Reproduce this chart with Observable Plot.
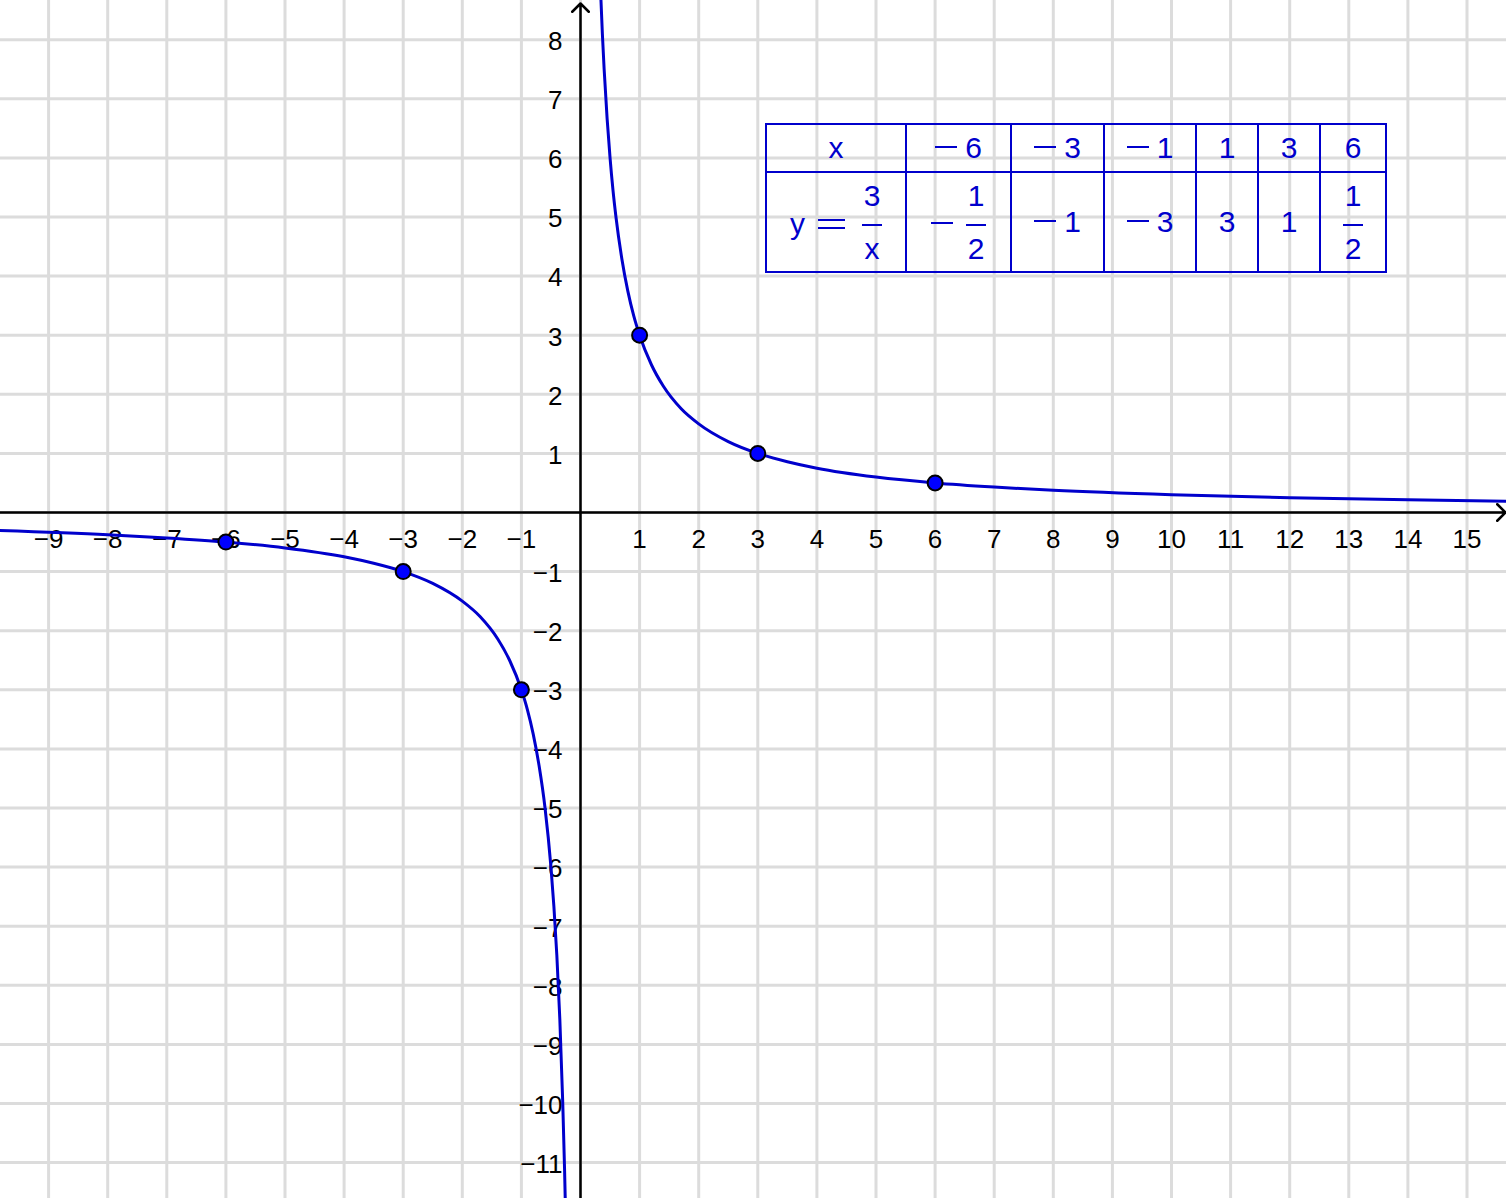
<!DOCTYPE html>
<html>
<head>
<meta charset="utf-8">
<script src="https://cdn.jsdelivr.net/npm/d3@7"></script>
<script src="https://cdn.jsdelivr.net/npm/@observablehq/plot@0.6"></script>
<style>
  body { margin: 0; background: #fff; }
  #wrap { position: relative; width: 1506px; height: 1198px; overflow: hidden; }
  #wrap svg { display: block; }
  #tbl { position: absolute; left: 765px; top: 123px; border-collapse: collapse; table-layout: fixed;
         width: 622px; color: #0000cc; font-family: "Liberation Sans", Arial, sans-serif; font-size: 30px; }
  #tbl td { border: 2px solid #0000cc; text-align: center; padding: 0; white-space: nowrap; }
  #tbl tr.r1 td { height: 46px; }
  #tbl tr.r2 td { height: 98px; }
  .frac { display: inline-flex; flex-direction: column; align-items: center; vertical-align: 28px; line-height: 1; }
  .frac .bar { border-top: 2px solid #0000cc; width: 20px; margin: 13px 0 8px 0; }
  .mn { display: inline-block; width: 22px; height: 0; border-top: 2px solid #0000cc; vertical-align: 10px; margin-right: 8px; }
  .mn.wide { margin-right: 13px; }
  .eq { display: inline-block; width: 27px; height: 6px; border-top: 2px solid #0000cc; border-bottom: 2px solid #0000cc; vertical-align: 5px; margin: 0 17px 0 13px; }
</style>
</head>
<body>
<div id="wrap"></div>
<script>
// ---- data ----
const xGrid = [-9,-8,-7,-6,-5,-4,-3,-2,-1,0,1,2,3,4,5,6,7,8,9,10,11,12,13,14,15];
const yGrid = [-11,-10,-9,-8,-7,-6,-5,-4,-3,-2,-1,0,1,2,3,4,5,6,7,8];
const xTickLabels = [-9,-8,-7,-6,-5,-4,-3,-2,-1,1,2,3,4,5,6,7,8,9,10,11,12,13,14,15];
const yTickLabels = [-11,-10,-9,-8,-7,-6,-5,-4,-3,-2,-1,1,2,3,4,5,6,7,8];

// table points
const pointX = [-6, -3, -1, 1, 3, 6];
const pointY = [-0.5, -1, -3, 3, 1, 0.5];

// curve: positive branch
const posX = [0.345, 0.37, 0.4, 0.45, 0.5, 0.55, 0.6, 0.7, 0.8, 0.9, 1, 1.2, 1.4, 1.7, 2, 2.5, 3, 3.5, 4, 5, 6, 7, 8, 10, 12, 14, 15.7];
const posY = [8.7, 8.1, 7.5, 6.67, 6, 5.45, 5, 4.29, 3.75, 3.33, 3, 2.5, 2.14, 1.76, 1.5, 1.2, 1, 0.86, 0.75, 0.6, 0.5, 0.43, 0.375, 0.3, 0.25, 0.214, 0.19];
// negative branch
const negX = [-9.9, -8, -7, -6, -5, -4, -3.5, -3, -2.5, -2, -1.7, -1.4, -1.2, -1, -0.9, -0.8, -0.7, -0.6, -0.5, -0.45, -0.4, -0.35, -0.3, -0.27, -0.255];
const negY = [-0.303, -0.375, -0.43, -0.5, -0.6, -0.75, -0.86, -1, -1.2, -1.5, -1.76, -2.14, -2.5, -3, -3.33, -3.75, -4.29, -5, -6, -6.67, -7.5, -8.57, -10, -11.1, -11.76];

// ---- view ----
const unit = 59.1, originX = 580, originY = 512, W = 1506, H = 1198;
const xDomain = [-originX / unit, (W - originX) / unit];
const yDomain = [-(H - originY) / unit, originY / unit];

const curve = [
  ...posX.map((x, i) => ({x, y: posY[i], branch: "pos"})),
  ...negX.map((x, i) => ({x, y: negY[i], branch: "neg"}))
];
const points = pointX.map((x, i) => ({x, y: pointY[i]}));
const fmt = d => (d < 0 ? "\u2212" : "") + Math.abs(d);

const axes = [
  {x1: xDomain[0], y1: 0, x2: (W - 1 - originX) / unit, y2: 0},
  {x1: 0, y1: yDomain[0], x2: 0, y2: (originY - 3) / unit}
];

const font = "Liberation Sans, Arial, sans-serif";

const chart = Plot.plot({
  width: W, height: H, margin: 0,
  style: {background: "white", overflow: "hidden"},
  x: {domain: xDomain, axis: null},
  y: {domain: yDomain, axis: null},
  marks: [
    Plot.ruleX(xGrid, {x: d => d, stroke: "#dcdcdc", strokeWidth: 3}),
    Plot.ruleY(yGrid, {y: d => d, stroke: "#dcdcdc", strokeWidth: 3}),
    Plot.arrow(axes, {x1: "x1", y1: "y1", x2: "x2", y2: "y2", stroke: "black", strokeWidth: 2.5, headLength: 7, headAngle: 90}),
    Plot.text(xTickLabels, {x: d => d, y: 0, text: fmt, dy: 27, fontSize: 26, fontFamily: font, fill: "black"}),
    Plot.text(yTickLabels, {x: 0, y: d => d, text: fmt, dx: -18, dy: 2, textAnchor: "end", fontSize: 26, fontFamily: font, fill: "black"}),
    Plot.line(curve, {x: "x", y: "y", z: "branch", stroke: "#0000cc", strokeWidth: 3, curve: "monotone-x"}),
    Plot.dot(points, {x: "x", y: "y", r: 7.5, fill: "#0000ff", stroke: "black", strokeWidth: 2})
  ]
});

const wrap = document.getElementById("wrap");
wrap.appendChild(chart);

// ---- value table ----
function frac(num, den) {
  return `<span class="frac"><span>${num}</span><span class="bar"></span><span>${den}</span></span>`;
}
function cellX(x) {
  return (x < 0 ? `<span class="mn"></span>` : "") + Math.abs(x);
}
function cellY(y) {
  if (Number.isInteger(y)) return cellX(y);
  const num = Math.round(Math.abs(y) * 2), den = 2;
  return (y < 0 ? `<span class="mn wide"></span>` : "") + frac(num, den);
}
const colWidths = [140, 105, 93, 92, 62, 62, 66];
const tbl = document.createElement("table");
tbl.id = "tbl";
tbl.innerHTML =
  `<colgroup>${colWidths.map(w => `<col style="width:${w}px">`).join("")}</colgroup>` +
  `<tr class="r1"><td>x</td>${pointX.map(x => `<td>${cellX(x)}</td>`).join("")}</tr>` +
  `<tr class="r2"><td>y<span class="eq"></span>${frac("3", "x")}</td>${pointY.map(y => `<td>${cellY(y)}</td>`).join("")}</tr>`;
wrap.appendChild(tbl);
</script>
</body>
</html>
